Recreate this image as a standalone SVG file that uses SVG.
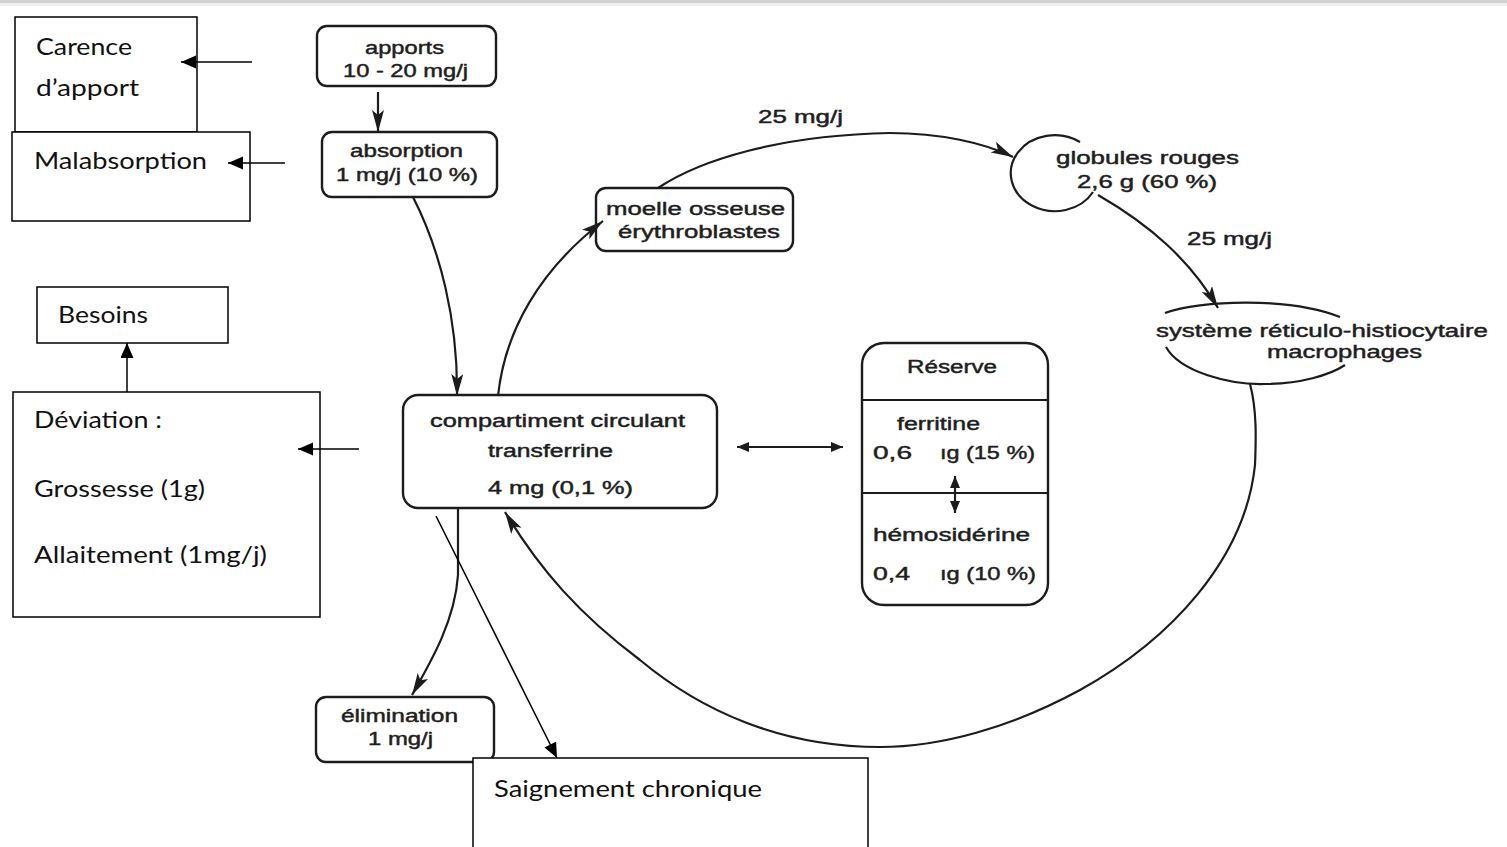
<svg xmlns="http://www.w3.org/2000/svg" width="1507" height="847" viewBox="0 0 1507 847">
  <defs>
    <style>
      .bg { fill: #ffffff; }
      .note { fill: #ffffff; stroke: #000000; stroke-width: 1.5; }
      .noteText { font-family: Lato, "Liberation Sans", sans-serif; font-size: 23px; fill: #111111; }
      .noteLink { fill: none; stroke: #000000; stroke-width: 1.5; }
      .box { fill: #ffffff; stroke: #1c1c1c; stroke-width: 2.4; }
      .oval { fill: none; stroke: #1c1c1c; stroke-width: 2.2; }
      .label { font-family: "Liberation Sans", Arial, sans-serif; font-size: 18px; fill: #1e1e1e; stroke: #1e1e1e; stroke-width: 0.45; }
      .flow { fill: none; stroke: #1c1c1c; stroke-width: 2.2; }
    </style>
    <marker id="tri" markerUnits="userSpaceOnUse" markerWidth="16" markerHeight="14" refX="15" refY="6.5" orient="auto">
      <path d="M0,0 L15,6.5 L0,13 z" fill="#000000"/>
    </marker>
    <marker id="dart" markerUnits="userSpaceOnUse" markerWidth="24" markerHeight="14" refX="22" refY="6" orient="auto">
      <path d="M0,0 L22,6 L0,12 L5,6 z" fill="#1c1c1c"/>
    </marker>
    <!-- short heads for the two-way exchanges -->
    <marker id="headEnd" markerUnits="userSpaceOnUse" markerWidth="14" markerHeight="12" refX="12" refY="5" orient="auto">
      <path d="M0,0 L12,5 L0,10 z" fill="#1c1c1c"/>
    </marker>
    <marker id="headStart" markerUnits="userSpaceOnUse" markerWidth="14" markerHeight="12" refX="0" refY="5" orient="auto">
      <path d="M12,0 L0,5 L12,10 z" fill="#1c1c1c"/>
    </marker>
  </defs>

  <rect class="bg" x="0" y="0" width="1507" height="847"/>
  <!-- page edge -->
  <rect x="0" y="0" width="1507" height="3" fill="#d2d2d2"/>
  <rect x="0" y="3" width="1507" height="3" fill="#eeeeee"/>

  <g id="apports">
    <rect class="box" x="317" y="26" width="179" height="60" rx="10"/>
    <text class="label" x="365" y="54" textLength="79" lengthAdjust="spacingAndGlyphs">apports</text>
    <text class="label" x="343" y="77" textLength="125" lengthAdjust="spacingAndGlyphs">10 - 20 mg/j</text>
  </g>

  <g id="absorption">
    <rect class="box" x="322" y="132" width="175" height="65" rx="10"/>
    <text class="label" x="350" y="157" textLength="113" lengthAdjust="spacingAndGlyphs">absorption</text>
    <text class="label" x="336" y="181" textLength="142" lengthAdjust="spacingAndGlyphs">1 mg/j (10 %)</text>
  </g>

  <g id="moelle">
    <rect class="box" x="596" y="188" width="197" height="63" rx="10"/>
    <text class="label" x="606" y="215" textLength="179" lengthAdjust="spacingAndGlyphs">moelle osseuse</text>
    <text class="label" x="618" y="238" textLength="162" lengthAdjust="spacingAndGlyphs">érythroblastes</text>
  </g>

  <g id="globules">
    <path class="oval" d="M1080,142 A44,38 0 1 0 1093,192"/>
    <text class="label" x="1056" y="164" textLength="183" lengthAdjust="spacingAndGlyphs">globules rouges</text>
    <text class="label" x="1077" y="188" textLength="140" lengthAdjust="spacingAndGlyphs">2,6 g (60 %)</text>
  </g>

  <g id="systeme">
    <path class="oval" d="M1165,313 C1200,300 1290,297 1340,317"/>
    <path class="oval" d="M1166,347 C1180,372 1230,385 1265,384 C1300,384 1330,375 1345,365"/>
    <text class="label" x="1156" y="337" textLength="332" lengthAdjust="spacingAndGlyphs">système réticulo-histiocytaire</text>
    <text class="label" x="1267" y="358" textLength="155" lengthAdjust="spacingAndGlyphs">macrophages</text>
  </g>

  <g id="compartiment">
    <rect class="box" x="403" y="395" width="314" height="113" rx="15"/>
    <text class="label" x="430" y="427" textLength="255" lengthAdjust="spacingAndGlyphs">compartiment circulant</text>
    <text class="label" x="488" y="457" textLength="125" lengthAdjust="spacingAndGlyphs">transferrine</text>
    <text class="label" x="488" y="494" textLength="145" lengthAdjust="spacingAndGlyphs">4 mg (0,1 %)</text>
  </g>

  <g id="reserve">
    <rect class="box" x="862" y="343" width="186" height="262" rx="22"/>
    <line class="flow" x1="862" y1="400" x2="1048" y2="400"/>
    <line class="flow" x1="862" y1="493" x2="1048" y2="493"/>
    <text class="label" x="907" y="373" textLength="90" lengthAdjust="spacingAndGlyphs">Réserve</text>
    <text class="label" x="897" y="430" textLength="83" lengthAdjust="spacingAndGlyphs">ferritine</text>
    <text class="label"><tspan x="873" y="459" textLength="39" lengthAdjust="spacingAndGlyphs">0,6</tspan><tspan x="940" y="459" textLength="95" lengthAdjust="spacingAndGlyphs">ıg (15 %)</tspan></text>
    <text class="label" x="873" y="541" textLength="157" lengthAdjust="spacingAndGlyphs">hémosidérine</text>
    <text class="label"><tspan x="873" y="580" textLength="37" lengthAdjust="spacingAndGlyphs">0,4</tspan><tspan x="940" y="580" textLength="96" lengthAdjust="spacingAndGlyphs">ıg (10 %)</tspan></text>
  </g>

  <g id="elimination">
    <rect class="box" x="316" y="697" width="178" height="65" rx="10"/>
    <text class="label" x="341" y="722" textLength="117" lengthAdjust="spacingAndGlyphs">élimination</text>
    <text class="label" x="368" y="745" textLength="65" lengthAdjust="spacingAndGlyphs">1 mg/j</text>
  </g>

  <!-- clinical annotation boxes -->
  <g id="carence">
    <rect class="note" x="15" y="17" width="182" height="115"/>
    <text class="noteText" x="36" y="55" textLength="96" lengthAdjust="spacingAndGlyphs">Carence</text>
    <text class="noteText" x="36" y="96" textLength="103" lengthAdjust="spacingAndGlyphs">d’apport</text>
  </g>

  <g id="malabsorption">
    <rect class="note" x="12" y="132" width="238" height="89"/>
    <text class="noteText" x="34" y="169" textLength="173" lengthAdjust="spacingAndGlyphs">Malabsorption</text>
  </g>

  <g id="besoins">
    <rect class="note" x="37" y="287" width="191" height="56"/>
    <text class="noteText" x="58" y="323" textLength="90" lengthAdjust="spacingAndGlyphs">Besoins</text>
  </g>

  <g id="deviation">
    <rect class="note" x="13" y="392" width="307" height="225"/>
    <text class="noteText" x="34" y="428" textLength="128" lengthAdjust="spacingAndGlyphs">Déviation :</text>
    <text class="noteText" x="34" y="497" textLength="171" lengthAdjust="spacingAndGlyphs">Grossesse (1g)</text>
    <text class="noteText" x="34" y="563" textLength="233" lengthAdjust="spacingAndGlyphs">Allaitement (1mg/j)</text>
  </g>

  <g id="saignement">
    <rect class="note" x="473" y="758" width="395" height="100"/>
    <text class="noteText" x="494" y="797" textLength="268" lengthAdjust="spacingAndGlyphs">Saignement chronique</text>
  </g>

  <!-- connectors, drawn last so arrowheads sit over the boxes -->
  <g id="connectors">
    <line class="flow" x1="378" y1="92" x2="378" y2="132" marker-end="url(#dart)"/>
    <path class="flow" d="M413,197 C440,250 458,320 457,396" marker-end="url(#dart)"/>
    <path class="flow" d="M498,396 C505,330 540,270 603,221" marker-end="url(#dart)"/>
    <path class="flow" d="M658,188 C700,160 780,135 890,133 C940,133 985,143 1013,157" marker-end="url(#dart)"/>
    <path class="flow" d="M1098,195 C1150,225 1190,260 1218,308" marker-end="url(#dart)"/>
    <path class="flow" d="M1250,384 C1257,410 1256,440 1255,465 C1245,560 1170,640 1080,690 C1010,728 940,747 880,747 C780,747 700,710 640,660 C580,615 540,570 505,512" marker-end="url(#dart)"/>
    <path class="flow" d="M458,508 L458,575 C455,620 432,660 412,695" marker-end="url(#dart)"/>
    <line class="flow" x1="737" y1="447" x2="843" y2="447" marker-start="url(#headStart)" marker-end="url(#headEnd)"/>
    <line class="flow" x1="955" y1="476" x2="955" y2="513" marker-start="url(#headStart)" marker-end="url(#headEnd)"/>
    <text class="label" x="758" y="123" textLength="85" lengthAdjust="spacingAndGlyphs">25 mg/j</text>
    <text class="label" x="1187" y="245" textLength="85" lengthAdjust="spacingAndGlyphs">25 mg/j</text>

    <!-- annotation arrows -->
    <line class="noteLink" x1="252" y1="62" x2="181" y2="62" marker-end="url(#tri)"/>
    <line class="noteLink" x1="285" y1="163" x2="228" y2="163" marker-end="url(#tri)"/>
    <line class="noteLink" x1="359" y1="449" x2="298" y2="449" marker-end="url(#tri)"/>
    <line class="noteLink" x1="127" y1="392" x2="127" y2="343" marker-end="url(#tri)"/>
    <line class="noteLink" x1="436" y1="516" x2="557" y2="758" marker-end="url(#tri)"/>
  </g>
</svg>
